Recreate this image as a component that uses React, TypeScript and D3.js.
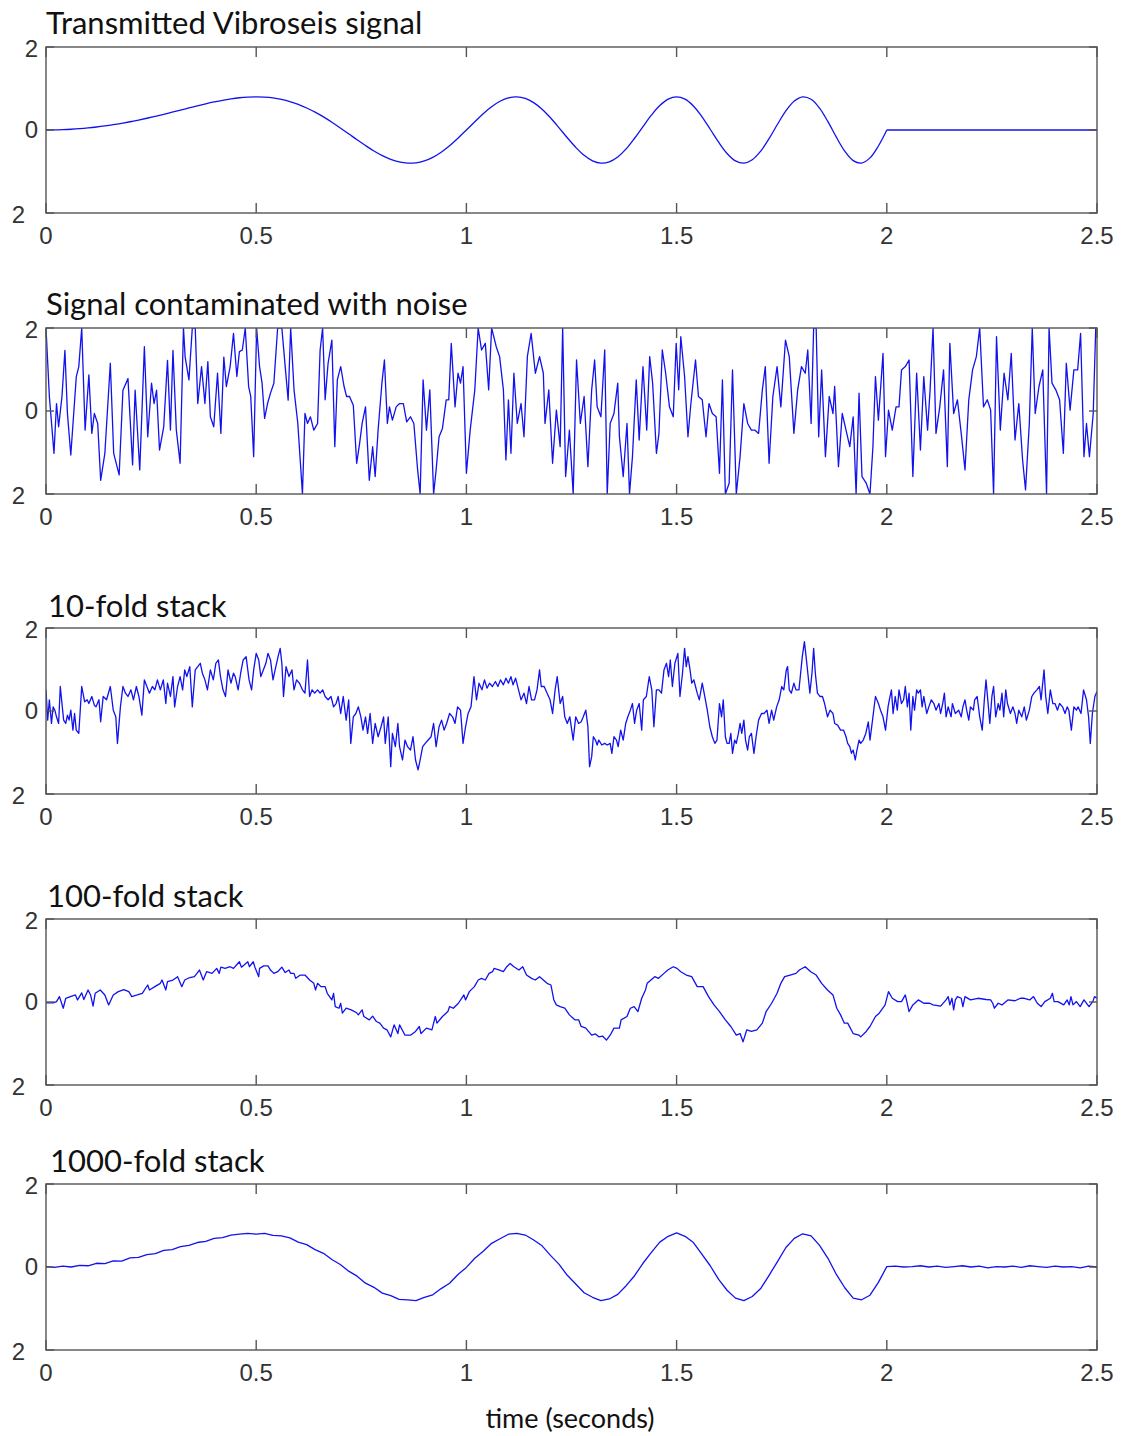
import * as d3 from "d3";

// tick values and labels
const xTicks = [0, 0.5, 1, 1.5, 2, 2.5];
const yTicks = [2, 0, -2];
const titles = [
  "Transmitted Vibroseis signal",
  "Signal contaminated with noise",
  "10-fold stack",
  "100-fold stack",
  "1000-fold stack",
];
const xLabel = "time (seconds)";

// transmitted sweep, sampled every 0.02 s from 0 to 2 s
const transmittedStep = 0.02;
const transmitted = [
  0, 0.002, 0.008, 0.018, 0.032, 0.05, 0.072, 0.098, 0.128, 0.162, 0.199, 0.24, 0.283,
  0.33, 0.378, 0.429, 0.48, 0.531, 0.582, 0.63, 0.675, 0.716, 0.75, 0.777, 0.794, 0.8,
  0.793, 0.773, 0.737, 0.686, 0.616, 0.53, 0.43, 0.315, 0.187, 0.05, -0.092, -0.236,
  -0.375, -0.505, -0.616, -0.706, -0.769, -0.799, -0.79, -0.744, -0.658, -0.535, -0.381,
  -0.197, 0, 0.201, 0.392, 0.561, 0.692, 0.775, 0.8, 0.761, 0.66, 0.501, 0.294, 0.058,
  -0.187, -0.417, -0.611, -0.744, -0.799, -0.767, -0.65, -0.456, -0.199, 0.082, 0.357,
  0.589, 0.744, 0.8, 0.743, 0.578, 0.324, 0.018, -0.294, -0.565, -0.743, -0.8, -0.717,
  -0.51, -0.207, 0.138, 0.46, 0.697, 0.798, 0.74, 0.527, 0.2, -0.172, -0.51, -0.738,
  -0.797, -0.672, -0.385, 0,
];
// flat part after the sweep ends
const transmittedTail: [number, number][] = [
  [2, 0], [2.5, 0],
];

// signal + noise, [time, value]
const noisy: [number, number][] = [
  [0, 2], [0.008, 0.35], [0.019, -1.02], [0.025, 0.18], [0.03, -0.38], [0.038, 0.35], [0.045, 1.46],
  [0.051, -0.06], [0.059, -1.06], [0.072, 0.82], [0.078, 1.07], [0.085, 2], [0.093, -0.46], [0.102, 0.87],
  [0.109, -0.54], [0.115, -0.06], [0.123, -0.3], [0.13, -1.67], [0.14, -1.02], [0.153, 1.15], [0.161, -1.02],
  [0.174, -1.54], [0.183, 0.5], [0.195, 0.78], [0.206, -1.3], [0.212, 0.5], [0.223, -1.42], [0.234, 1.55],
  [0.242, -0.62], [0.251, 0.67], [0.257, 0.18], [0.263, 0.5], [0.27, -0.94], [0.28, -0.38], [0.289, 1.22],
  [0.296, -0.46], [0.302, 1.46], [0.31, -0.46], [0.319, -1.26], [0.327, 2], [0.331, 1.3], [0.34, 0.75],
  [0.348, 2], [0.355, 2], [0.361, 0.18], [0.37, 1.07], [0.378, 0.18], [0.385, 1.19], [0.391, -0.14],
  [0.399, -0.38], [0.408, 0.91], [0.416, -0.54], [0.423, 1.3], [0.429, 0.59], [0.438, 1.07], [0.446, 1.87],
  [0.454, 0.83], [0.46, 1.43], [0.467, 1.47], [0.474, 2], [0.482, 0.59], [0.487, 0.35], [0.494, -1.1],
  [0.501, 2], [0.508, 1.07], [0.514, 0.67], [0.52, -0.18], [0.527, 0.18], [0.534, 0.43], [0.542, 0.67],
  [0.551, 2], [0.561, 2], [0.569, 1.07], [0.576, 0.26], [0.582, 2], [0.59, 0.51], [0.599, -0.3],
  [0.61, -2], [0.616, -0.06], [0.622, -0.3], [0.629, -0.14], [0.637, -0.46], [0.646, -0.3], [0.652, 1.46],
  [0.658, 2], [0.664, 0.27], [0.671, 1.15], [0.68, 1.71], [0.687, -0.86], [0.693, 0.75], [0.701, 1.07],
  [0.709, 0.59], [0.715, 0.35], [0.722, 0.35], [0.731, 0.14], [0.739, -1.26], [0.746, -0.78], [0.752, -0.3],
  [0.76, 0.1], [0.769, -1.67], [0.777, -0.86], [0.783, -1.58], [0.79, -0.46], [0.799, 0.67], [0.805, 1.23],
  [0.812, -0.3], [0.817, 0.1], [0.824, -0.22], [0.833, 0.1], [0.841, 0.18], [0.85, 0.18], [0.858, -0.26],
  [0.867, -0.14], [0.875, -0.3], [0.884, -1.42], [0.89, -2], [0.897, 0.75], [0.905, -0.46], [0.913, 0.51],
  [0.922, -2], [0.928, -1.42], [0.935, -0.62], [0.943, -0.42], [0.952, 0.27], [0.958, 0.27], [0.964, 1.63],
  [0.973, 0.1], [0.98, 0.91], [0.986, 0.67], [0.992, 1.07], [1, -1.5], [1.009, -0.46], [1.02, 0.51],
  [1.028, 2], [1.036, 1.47], [1.045, 1.63], [1.053, 0.51], [1.06, 2], [1.071, 1.55], [1.079, 1.31],
  [1.088, 0.51], [1.094, -1.18], [1.1, 0.27], [1.106, -1.02], [1.113, 0.91], [1.121, -0.3], [1.13, 0.18],
  [1.137, -0.62], [1.145, 1.31], [1.154, 1.87], [1.164, 0.91], [1.174, 1.31], [1.183, 0.91], [1.187, -0.3],
  [1.196, 0.51], [1.205, -1.26], [1.214, 0.02], [1.223, -0.86], [1.229, 2], [1.236, -1.58], [1.245, -0.46],
  [1.254, -2], [1.262, 1.23], [1.271, -0.3], [1.28, 0.35], [1.289, -1.34], [1.298, 0.51], [1.305, 1.23],
  [1.311, 0.1], [1.32, -0.14], [1.329, 1.47], [1.335, -2], [1.342, -0.3], [1.351, -0.06], [1.36, 0.67],
  [1.364, -0.62], [1.373, -1.58], [1.382, -0.3], [1.388, -2], [1.395, -1.1], [1.404, 0.75], [1.411, -0.7],
  [1.42, 1.07], [1.429, -0.46], [1.436, 1.31], [1.443, 0.67], [1.452, -1.02], [1.458, -0.54], [1.466, 1.47],
  [1.474, 0.91], [1.483, 0.1], [1.492, -0.14], [1.499, 1.63], [1.505, 0.51], [1.51, 1.79], [1.519, 0.83],
  [1.527, -0.62], [1.534, 0.18], [1.545, 1.23], [1.552, 0.35], [1.561, 0.27], [1.57, -0.62], [1.577, 0.18],
  [1.585, -0.06], [1.594, -0.14], [1.602, -1.5], [1.609, 0.75], [1.616, -2], [1.625, -1.74], [1.633, 0.99],
  [1.642, -2], [1.651, -1.1], [1.66, 0.18], [1.669, -0.3], [1.678, -0.46], [1.686, -0.46], [1.695, -0.54],
  [1.704, 0.51], [1.711, 1.07], [1.72, -1.26], [1.729, 0.35], [1.739, 1.07], [1.748, 0.1], [1.759, 1.71],
  [1.768, 1.31], [1.779, -0.54], [1.788, 0.51], [1.797, 1.07], [1.806, 0.91], [1.812, 1.47], [1.82, -0.3],
  [1.826, 2], [1.832, 2], [1.838, -0.62], [1.845, 0.99], [1.854, -1.1], [1.863, 0.35], [1.872, -0.06],
  [1.876, 0.59], [1.885, -1.34], [1.894, -0.06], [1.903, -0.46], [1.912, -0.86], [1.92, -0.14], [1.927, -2],
  [1.934, 0.43], [1.941, -1.58], [1.951, -1.74], [1.96, -2], [1.967, -0.86], [1.973, 0.83], [1.98, -0.22],
  [1.991, 1.39], [1.997, -1.1], [2.004, 0.02], [2.013, -0.46], [2.022, 0.1], [2.029, 0.1], [2.035, 0.99],
  [2.044, 1.07], [2.053, 1.23], [2.062, -1.58], [2.071, 0.91], [2.08, -0.94], [2.088, 0.83], [2.097, -0.46],
  [2.103, 0.51], [2.11, 2], [2.117, -0.54], [2.126, 0.1], [2.135, 0.99], [2.144, -1.34], [2.15, 1.63],
  [2.159, -0.06], [2.168, 0.27], [2.177, -0.54], [2.186, -1.42], [2.195, 0.27], [2.204, 0.99], [2.213, 1.31],
  [2.221, 2], [2.23, 0.1], [2.239, 0.27], [2.247, 0.02], [2.254, -2], [2.261, 1.79], [2.27, -0.46],
  [2.279, 0.91], [2.288, 0.27], [2.296, 1.39], [2.305, -0.7], [2.314, 0.18], [2.323, -1.18], [2.33, -1.9],
  [2.339, -0.3], [2.346, 2], [2.353, -0.06], [2.362, 0.59], [2.371, 0.99], [2.38, -2], [2.386, 2],
  [2.393, 0.67], [2.402, 0.51], [2.411, 0.27], [2.42, -1.02], [2.427, 1.15], [2.436, 0.02], [2.445, 0.99],
  [2.454, 0.99], [2.461, 1.87], [2.469, -1.1], [2.475, -0.3], [2.482, -1.1], [2.491, -0.06], [2.497, 2],
  [2.5, 2],
];

// 10-fold stack, [time, value]
const stack10: [number, number][] = [
  [0, 0.51], [0.004, -0.22], [0.008, 0.27], [0.013, -0.3], [0.017, 0.1], [0.021, 0.02], [0.025, -0.14],
  [0.03, -0.3], [0.034, 0.59], [0.038, 0.18], [0.042, -0.22], [0.047, -0.3], [0.051, -0.1], [0.055, -0.22],
  [0.059, 0.02], [0.064, -0.46], [0.068, -0.06], [0.072, -0.46], [0.078, -0.54], [0.085, 0.59], [0.092, 0.22],
  [0.098, 0.27], [0.102, 0.18], [0.109, 0.35], [0.115, 0.14], [0.119, 0.1], [0.126, 0.27], [0.13, -0.26],
  [0.136, 0.35], [0.144, 0.27], [0.153, 0.59], [0.16, 0.02], [0.166, -0.14], [0.17, -0.78], [0.177, 0.1],
  [0.183, 0.59], [0.189, 0.43], [0.195, 0.35], [0.202, 0.51], [0.208, 0.27], [0.215, 0.59], [0.221, 0.35],
  [0.228, -0.1], [0.234, 0.75], [0.24, 0.59], [0.246, 0.43], [0.253, 0.59], [0.259, 0.51], [0.265, 0.75],
  [0.272, 0.51], [0.279, 0.75], [0.285, 0.18], [0.289, 0.67], [0.296, 0.35], [0.302, 0.83], [0.306, 0.1],
  [0.313, 0.59], [0.319, 0.83], [0.325, 0.51], [0.33, 0.99], [0.335, 0.83], [0.342, 1.07], [0.348, 0.1],
  [0.355, 0.99], [0.361, 1.07], [0.367, 1.15], [0.372, 0.91], [0.378, 0.75], [0.384, 0.51], [0.391, 0.99],
  [0.398, 0.75], [0.404, 1.15], [0.41, 1.23], [0.415, 0.83], [0.421, 0.51], [0.427, 0.35], [0.433, 0.99],
  [0.44, 0.67], [0.446, 0.91], [0.45, 0.83], [0.457, 0.51], [0.463, 0.91], [0.469, 1.23], [0.476, 1.31],
  [0.483, 0.75], [0.489, 0.51], [0.494, 0.99], [0.5, 1.39], [0.506, 1.23], [0.511, 0.83], [0.517, 0.99],
  [0.523, 1.15], [0.528, 1.39], [0.534, 1.23], [0.54, 0.75], [0.545, 0.99], [0.552, 1.31], [0.557, 1.51],
  [0.561, 1.15], [0.565, 0.35], [0.571, 1.07], [0.578, 0.83], [0.585, 0.99], [0.59, 0.51], [0.596, 0.75],
  [0.603, 0.67], [0.61, 0.51], [0.616, 0.43], [0.622, 1.23], [0.627, 0.35], [0.633, 0.51], [0.639, 0.43],
  [0.646, 0.51], [0.652, 0.43], [0.658, 0.51], [0.664, 0.35], [0.671, 0.27], [0.678, 0.35], [0.684, 0.1],
  [0.69, 0.18], [0.695, 0.35], [0.701, -0.06], [0.707, 0.35], [0.714, -0.22], [0.72, 0.27], [0.725, -0.78],
  [0.731, -0.14], [0.737, -0.06], [0.743, 0.1], [0.749, -0.14], [0.754, -0.46], [0.76, -0.14], [0.765, -0.54],
  [0.771, -0.06], [0.777, -0.78], [0.783, -0.3], [0.79, -0.62], [0.797, -0.38], [0.803, -0.14], [0.807, -0.78],
  [0.814, -0.14], [0.82, -1.34], [0.824, -0.54], [0.831, -0.86], [0.837, -0.3], [0.841, -0.86], [0.848, -1.18],
  [0.854, -0.7], [0.86, -0.86], [0.867, -0.94], [0.873, -0.62], [0.879, -1.18], [0.885, -1.42], [0.89, -1.18],
  [0.896, -0.86], [0.902, -0.78], [0.909, -0.7], [0.916, -0.62], [0.922, -0.3], [0.928, -0.86], [0.935, -0.38],
  [0.941, -0.22], [0.947, -0.46], [0.953, -0.3], [0.96, -0.06], [0.967, -0.14], [0.973, -0.3], [0.979, 0.1],
  [0.986, 0.02], [0.992, -0.78], [0.998, -0.38], [1.004, -0.06], [1.011, 0.1], [1.018, 0.83], [1.024, 0.27],
  [1.03, 0.67], [1.037, 0.51], [1.043, 0.75], [1.049, 0.55], [1.055, 0.67], [1.062, 0.59], [1.069, 0.71],
  [1.075, 0.59], [1.081, 0.75], [1.088, 0.63], [1.094, 0.79], [1.1, 0.67], [1.106, 0.83], [1.111, 0.63],
  [1.117, 0.79], [1.123, 0.55], [1.13, 0.27], [1.137, 0.43], [1.143, 0.18], [1.149, 0.59], [1.155, 0.27],
  [1.162, 0.27], [1.168, 0.51], [1.174, 0.99], [1.178, 0.59], [1.185, 0.59], [1.192, 0.43], [1.199, 0.27],
  [1.205, -0.06], [1.211, 0.51], [1.216, 0.83], [1.223, 0.18], [1.229, 0.35], [1.234, -0.14], [1.24, -0.3],
  [1.246, -0.14], [1.254, -0.7], [1.26, -0.14], [1.267, -0.3], [1.273, -0.26], [1.278, -0.14], [1.284, 0.02],
  [1.289, -0.38], [1.293, -1.34], [1.298, -1.1], [1.302, -0.62], [1.307, -0.7], [1.311, -0.82], [1.315, -0.7],
  [1.322, -0.82], [1.329, -0.78], [1.335, -0.82], [1.342, -0.78], [1.346, -1.02], [1.351, -0.62], [1.357, -0.7],
  [1.361, -0.86], [1.367, -0.46], [1.373, -0.7], [1.379, -0.3], [1.384, -0.14], [1.39, 0.02], [1.395, 0.18],
  [1.4, -0.3], [1.405, 0.02], [1.411, 0.18], [1.417, -0.46], [1.421, 0.27], [1.428, 0.35], [1.435, 0.83],
  [1.441, 0.51], [1.446, -0.38], [1.452, 0.51], [1.458, 0.51], [1.464, 0.43], [1.47, 0.99], [1.476, 1.15],
  [1.481, 0.83], [1.485, 1.23], [1.49, 0.59], [1.496, 1.15], [1.503, 1.39], [1.508, 0.35], [1.514, 0.91],
  [1.519, 1.51], [1.523, 1.07], [1.527, 1.31], [1.532, 0.99], [1.536, 0.67], [1.541, 0.75], [1.545, 0.59],
  [1.549, 0.43], [1.554, 0.27], [1.561, 0.67], [1.567, 0.35], [1.573, 0.02], [1.579, -0.38], [1.585, -0.62],
  [1.591, -0.78], [1.596, -0.7], [1.602, 0.18], [1.607, -0.14], [1.611, 0.27], [1.616, -0.62], [1.62, -0.78],
  [1.625, -0.78], [1.629, -0.54], [1.633, -1.02], [1.638, -0.7], [1.642, -0.78], [1.647, -0.54], [1.651, -0.3],
  [1.655, -0.54], [1.66, -0.22], [1.664, -0.7], [1.669, -0.94], [1.673, -0.62], [1.678, -0.54], [1.684, -1.02],
  [1.689, -0.62], [1.695, -0.22], [1.702, -0.06], [1.708, -0.06], [1.715, 0.02], [1.72, -0.3], [1.726, 0.02],
  [1.731, -0.22], [1.738, 0.1], [1.744, 0.27], [1.75, 0.59], [1.755, 0.51], [1.761, 0.99], [1.764, 1.07],
  [1.768, 0.51], [1.773, 0.43], [1.779, 0.67], [1.784, 0.51], [1.791, 0.51], [1.795, 0.91], [1.799, 1.31],
  [1.804, 1.67], [1.808, 1.31], [1.813, 0.83], [1.817, 0.43], [1.822, 0.91], [1.826, 1.51], [1.83, 0.91],
  [1.835, 0.43], [1.841, 0.35], [1.847, 0.35], [1.852, 0.18], [1.859, -0.14], [1.865, 0.02], [1.872, -0.06],
  [1.876, -0.3], [1.883, -0.34], [1.89, -0.46], [1.897, -0.46], [1.903, -0.62], [1.907, -0.78], [1.912, -0.86],
  [1.916, -1.02], [1.92, -0.94], [1.925, -1.18], [1.929, -0.94], [1.934, -0.7], [1.938, -0.78], [1.944, -0.7],
  [1.95, -0.54], [1.956, -0.26], [1.96, -0.7], [1.967, -0.14], [1.973, 0.35], [1.98, 0.18], [1.985, 0.02],
  [1.991, -0.14], [1.997, -0.46], [2.003, 0.1], [2.006, 0.27], [2.011, 0.51], [2.015, -0.06], [2.02, 0.35],
  [2.025, 0.02], [2.029, 0.51], [2.035, 0.18], [2.04, 0.27], [2.044, 0.59], [2.049, 0.1], [2.053, 0.43],
  [2.057, -0.46], [2.062, 0.35], [2.066, 0.02], [2.071, 0.51], [2.075, 0.43], [2.08, 0.51], [2.084, 0.1],
  [2.088, 0.35], [2.095, -0.06], [2.1, 0.1], [2.106, 0.27], [2.112, 0.18], [2.117, 0.02], [2.124, 0.18],
  [2.128, -0.06], [2.133, 0.18], [2.137, 0.43], [2.141, -0.14], [2.146, 0.1], [2.153, -0.14], [2.156, 0.18],
  [2.163, -0.06], [2.171, 0.02], [2.177, -0.14], [2.181, 0.1], [2.186, 0.27], [2.19, 0.02], [2.195, -0.22],
  [2.199, 0.1], [2.206, 0.02], [2.209, 0.27], [2.215, 0.35], [2.221, -0.14], [2.227, -0.46], [2.232, 0.27],
  [2.236, 0.75], [2.241, 0.18], [2.245, -0.3], [2.25, 0.35], [2.254, 0.59], [2.259, -0.14], [2.265, 0.18],
  [2.269, 0.02], [2.274, 0.43], [2.278, -0.14], [2.283, 0.51], [2.287, 0.18], [2.294, -0.06], [2.3, 0.1],
  [2.305, -0.06], [2.309, -0.3], [2.314, 0.02], [2.321, -0.14], [2.327, 0.1], [2.332, -0.22], [2.339, 0.02],
  [2.345, 0.35], [2.35, 0.43], [2.357, 0.51], [2.363, 0.59], [2.367, 0.27], [2.374, 0.99], [2.378, 0.35],
  [2.383, -0.06], [2.389, 0.51], [2.395, 0.18], [2.4, 0.18], [2.406, 0.02], [2.411, 0.18], [2.418, 0.1],
  [2.424, -0.06], [2.429, 0.1], [2.433, 0.02], [2.439, -0.46], [2.445, 0.1], [2.451, 0.02], [2.455, 0.1],
  [2.462, -0.06], [2.468, 0.51], [2.475, 0.27], [2.48, -0.14], [2.484, -0.78], [2.489, -0.06], [2.495, 0.35],
  [2.5, 0.47],
];

// 100-fold stack, [time, value]
const stack100: [number, number][] = [
  [0, -0.02], [0.017, -0.02], [0.025, 0.01], [0.032, 0.13], [0.041, -0.15], [0.047, 0.09], [0.058, 0.13],
  [0.07, 0.17], [0.075, 0.05], [0.085, 0.22], [0.09, 0.06], [0.1, 0.29], [0.106, 0.17], [0.112, -0.1],
  [0.117, 0.21], [0.129, 0.29], [0.14, 0.17], [0.149, -0.07], [0.16, 0.17], [0.172, 0.25], [0.185, 0.3],
  [0.197, 0.25], [0.204, 0.13], [0.217, 0.17], [0.229, 0.21], [0.242, 0.41], [0.246, 0.29], [0.259, 0.37],
  [0.272, 0.45], [0.276, 0.53], [0.285, 0.29], [0.289, 0.49], [0.302, 0.53], [0.313, 0.61], [0.323, 0.37],
  [0.33, 0.53], [0.342, 0.59], [0.353, 0.61], [0.365, 0.77], [0.374, 0.53], [0.382, 0.73], [0.395, 0.69],
  [0.406, 0.81], [0.412, 0.69], [0.416, 0.84], [0.426, 0.81], [0.438, 0.85], [0.446, 0.81], [0.46, 0.97],
  [0.465, 0.84], [0.48, 0.97], [0.484, 0.85], [0.493, 0.97], [0.497, 0.84], [0.506, 0.61], [0.508, 0.81],
  [0.518, 0.87], [0.528, 0.87], [0.534, 0.77], [0.542, 0.69], [0.551, 0.73], [0.561, 0.84], [0.569, 0.71],
  [0.578, 0.77], [0.582, 0.69], [0.59, 0.69], [0.594, 0.57], [0.605, 0.65], [0.616, 0.65], [0.627, 0.53],
  [0.637, 0.45], [0.641, 0.29], [0.646, 0.45], [0.654, 0.37], [0.664, 0.37], [0.669, 0.21], [0.68, 0.05],
  [0.684, 0.21], [0.688, -0.11], [0.697, -0.15], [0.701, -0.03], [0.705, -0.27], [0.714, -0.15], [0.726, -0.19],
  [0.739, -0.26], [0.743, -0.31], [0.752, -0.19], [0.756, -0.35], [0.769, -0.43], [0.777, -0.34], [0.786, -0.47],
  [0.794, -0.51], [0.803, -0.63], [0.811, -0.67], [0.82, -0.84], [0.828, -0.55], [0.837, -0.76], [0.841, -0.55],
  [0.854, -0.8], [0.867, -0.8], [0.879, -0.71], [0.888, -0.59], [0.892, -0.76], [0.905, -0.63], [0.918, -0.67],
  [0.926, -0.35], [0.93, -0.51], [0.943, -0.35], [0.956, -0.23], [0.96, -0.11], [0.969, -0.15], [0.981, -0.03],
  [0.994, 0.17], [0.998, 0.05], [1.007, 0.25], [1.019, 0.37], [1.028, 0.53], [1.036, 0.57], [1.045, 0.53],
  [1.054, 0.69], [1.062, 0.73], [1.066, 0.81], [1.079, 0.77], [1.088, 0.73], [1.096, 0.85], [1.104, 0.93],
  [1.113, 0.85], [1.125, 0.77], [1.134, 0.85], [1.143, 0.65], [1.155, 0.57], [1.164, 0.53], [1.174, 0.61],
  [1.192, 0.45], [1.201, 0.41], [1.208, 0.05], [1.214, -0.07], [1.223, -0.11], [1.234, -0.15], [1.245, -0.31],
  [1.258, -0.43], [1.267, -0.43], [1.273, -0.59], [1.284, -0.63], [1.298, -0.8], [1.307, -0.77], [1.315, -0.84],
  [1.324, -0.82], [1.333, -0.92], [1.342, -0.8], [1.351, -0.63], [1.364, -0.63], [1.368, -0.43], [1.382, -0.35],
  [1.39, -0.15], [1.399, -0.11], [1.408, -0.23], [1.417, 0.09], [1.426, 0.29], [1.43, 0.45], [1.439, 0.53],
  [1.448, 0.61], [1.457, 0.57], [1.47, 0.69], [1.479, 0.77], [1.492, 0.85], [1.501, 0.81], [1.51, 0.73],
  [1.523, 0.65], [1.536, 0.61], [1.549, 0.37], [1.563, 0.37], [1.576, 0.13], [1.589, -0.07], [1.602, -0.23],
  [1.616, -0.43], [1.629, -0.59], [1.642, -0.8], [1.651, -0.76], [1.658, -0.96], [1.667, -0.67], [1.678, -0.71],
  [1.691, -0.67], [1.704, -0.51], [1.713, -0.23], [1.726, -0.03], [1.739, 0.21], [1.748, 0.45], [1.757, 0.61],
  [1.77, 0.65], [1.784, 0.69], [1.792, 0.77], [1.806, 0.85], [1.819, 0.73], [1.832, 0.65], [1.845, 0.45],
  [1.859, 0.29], [1.872, 0.17], [1.881, -0.15], [1.89, -0.31], [1.899, -0.51], [1.907, -0.51], [1.92, -0.76],
  [1.934, -0.8], [1.938, -0.84], [1.951, -0.71], [1.96, -0.59], [1.973, -0.35], [1.982, -0.27], [1.996, -0.07],
  [2.004, 0.25], [2.013, 0.09], [2.026, 0.01], [2.035, 0.01], [2.044, 0.17], [2.053, -0.23], [2.062, -0.07],
  [2.075, 0.05], [2.088, -0.03], [2.102, -0.03], [2.11, -0.07], [2.128, -0.1], [2.141, 0.05], [2.146, 0.13],
  [2.15, -0.07], [2.155, 0.09], [2.159, -0.19], [2.163, 0.05], [2.168, 0.13], [2.177, 0.09], [2.181, -0.11],
  [2.186, 0.13], [2.199, 0.05], [2.217, 0.09], [2.236, 0.06], [2.247, 0.05], [2.252, -0.03], [2.256, -0.15],
  [2.265, -0.03], [2.274, -0.07], [2.288, 0.05], [2.305, 0.03], [2.318, 0.09], [2.327, 0.09], [2.34, 0.05],
  [2.349, 0.13], [2.358, -0.03], [2.367, -0.11], [2.376, 0.01], [2.389, 0.09], [2.394, 0.21], [2.398, 0.01],
  [2.407, 0.01], [2.421, -0.07], [2.429, 0.05], [2.434, -0.07], [2.438, 0.13], [2.443, -0.07], [2.451, 0.01],
  [2.46, -0.11], [2.469, 0.05], [2.481, -0.11], [2.49, 0.01], [2.494, 0.13], [2.5, 0.09],
];

// 1000-fold stack, sampled every 0.02 s
const stack1000Step = 0.02;
const stack1000 = [
  0.01, -0.01, 0.02, 0, 0.04, 0.03, 0.09, 0.08, 0.15, 0.14, 0.22, 0.23, 0.3, 0.32, 0.4, 0.42,
  0.49, 0.52, 0.59, 0.62, 0.69, 0.71, 0.77, 0.79, 0.81, 0.79, 0.81, 0.76, 0.75, 0.7, 0.6, 0.54,
  0.42, 0.33, 0.18, 0.06, -0.1, -0.22, -0.39, -0.49, -0.63, -0.69, -0.78, -0.79, -0.81, -0.73,
  -0.67, -0.52, -0.39, -0.18, -0.01, 0.21, 0.38, 0.57, 0.68, 0.79, 0.81, 0.77, 0.65, 0.51, 0.28,
  0.07, -0.2, -0.41, -0.62, -0.73, -0.81, -0.77, -0.66, -0.45, -0.21, 0.09, 0.35, 0.6, 0.74, 0.82,
  0.74, 0.59, 0.31, 0.03, -0.3, -0.56, -0.75, -0.81, -0.71, -0.52, -0.2, 0.13, 0.47, 0.69, 0.8,
  0.75, 0.52, 0.21, -0.18, -0.5, -0.75, -0.79, -0.68, -0.37, 0.01, 0.02, 0, 0.01, 0.03, 0, 0.02,
  -0.01, 0.01, 0.03, 0, 0.02, -0.02, 0.01, 0, 0.02, -0.01, 0.03, 0.01, -0.01, 0.02, 0, 0.01, -0.02,
  0.02, 0,
];

const W = 1121;
const H = 1436;
const plotLeft = 46;
const plotRight = 1097;
const panelH = 166;
const panelTops = [47, 328, 628, 919, 1184];
const titleX = [46, 46, 48, 47, 50];
const titleY = [34, 315, 617, 907, 1172];

const lineColor = "#1212ee";
const axisColor = "#555";
const labelFont = "'Liberation Sans', Arial, sans-serif";
const titleFont = "Lato, 'Open Sans', sans-serif";

type Pt = [number, number];
type Segment = { data: Pt[]; curve: d3.CurveFactory };

// each panel can be drawn from one or more segments
const series: Segment[][] = [
  [
    {
      data: transmitted.map((v, i) => [i * transmittedStep, v] as Pt),
      curve: d3.curveCatmullRom,
    },
    { data: transmittedTail, curve: d3.curveLinear },
  ],
  [{ data: noisy, curve: d3.curveLinear }],
  [{ data: stack10, curve: d3.curveLinear }],
  [{ data: stack100, curve: d3.curveLinear }],
  [
    {
      data: stack1000.map((v, i) => [i * stack1000Step, v] as Pt),
      curve: d3.curveLinear,
    },
  ],
];

const x = d3.scaleLinear().domain([0, 2.5]).range([plotLeft, plotRight]);

function Panel({ idx }: { idx: number }) {
  const top = panelTops[idx];
  const y = d3.scaleLinear().domain([-2, 2]).range([top + panelH, top]);
  const clipId = `clip-${idx}`;
  const tickLen = 10;
  return (
    <g>
      <defs>
        <clipPath id={clipId}>
          <rect x={plotLeft} y={top} width={plotRight - plotLeft} height={panelH} />
        </clipPath>
      </defs>
      <text
        x={titleX[idx]}
        y={titleY[idx]}
        fontFamily={titleFont}
        fontSize={31}
        fill="#111"
      >
        {titles[idx]}
      </text>
      {series[idx].map((seg, k) => {
        const line = d3
          .line<Pt>()
          .x((d) => x(d[0]))
          .y((d) => y(d[1]))
          .curve(seg.curve);
        return (
          <path
            key={k}
            d={line(seg.data) ?? ""}
            fill="none"
            stroke={lineColor}
            strokeWidth={1.3}
            strokeLinejoin="round"
            clipPath={`url(#${clipId})`}
          />
        );
      })}
      <rect
        x={plotLeft}
        y={top}
        width={plotRight - plotLeft}
        height={panelH}
        fill="none"
        stroke={axisColor}
        strokeWidth={1.4}
      />
      {xTicks.map((t) => (
        <g key={`xt-${t}`}>
          <line x1={x(t)} x2={x(t)} y1={top} y2={top + tickLen} stroke={axisColor} strokeWidth={1.4} />
          <line
            x1={x(t)}
            x2={x(t)}
            y1={top + panelH}
            y2={top + panelH - tickLen}
            stroke={axisColor}
            strokeWidth={1.4}
          />
          <text
            x={x(t)}
            y={top + panelH + 31}
            textAnchor="middle"
            fontFamily={labelFont}
            fontSize={24}
            fill="#333"
          >
            {String(t)}
          </text>
        </g>
      ))}
      {yTicks.map((t) => (
        <g key={`yt-${t}`}>
          <line x1={plotLeft} x2={plotLeft + 8} y1={y(t)} y2={y(t)} stroke={axisColor} strokeWidth={1.4} />
          <line x1={plotRight} x2={plotRight - 8} y1={y(t)} y2={y(t)} stroke={axisColor} strokeWidth={1.4} />
          <text
            x={t < 0 ? plotLeft - 21 : plotLeft - 8}
            y={y(t) + (t === 0 ? 8 : 10)}
            textAnchor="end"
            fontFamily={labelFont}
            fontSize={24}
            fill="#333"
          >
            {String(Math.abs(t))}
          </text>
        </g>
      ))}
    </g>
  );
}

export default function App() {
  return (
    <svg
      width={W}
      height={H}
      viewBox={`0 0 ${W} ${H}`}
      style={{ position: "absolute", left: 0, top: 0, background: "#fff" }}
    >
      <rect width={W} height={H} fill="#fff" />
      {titles.map((_, i) => (
        <Panel key={i} idx={i} />
      ))}
      <text
        x={570}
        y={1428}
        textAnchor="middle"
        fontFamily={titleFont}
        fontSize={27}
        fill="#111"
      >
        {xLabel}
      </text>
    </svg>
  );
}
